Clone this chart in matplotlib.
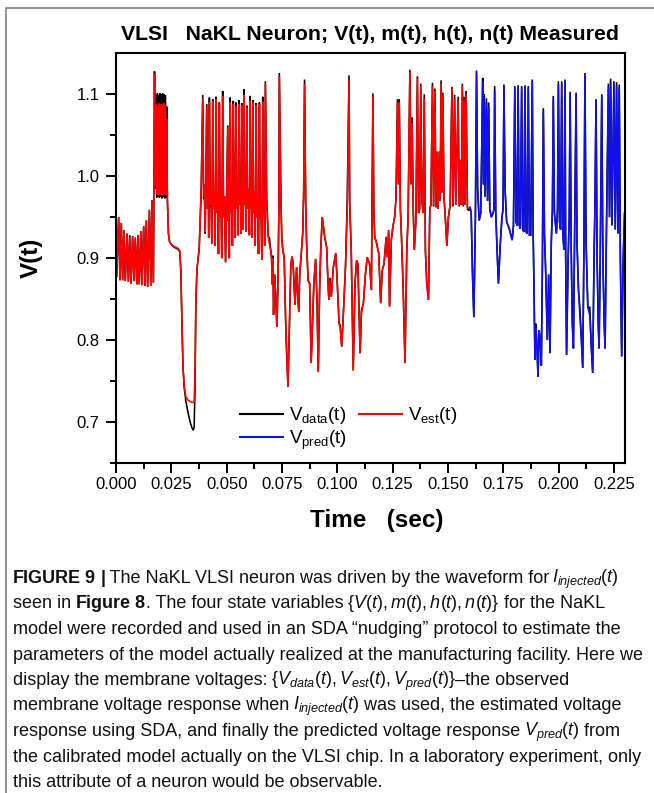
import numpy as np
import matplotlib
import matplotlib.pyplot as plt
from matplotlib.lines import Line2D
from matplotlib.patches import Rectangle

plt.rcParams['font.family'] = ['Liberation Sans', 'DejaVu Sans']
plt.rcParams['mathtext.fontset'] = 'custom'
plt.rcParams['mathtext.rm'] = 'Liberation Sans'
plt.rcParams['mathtext.it'] = 'Liberation Sans:italic'
plt.rcParams['mathtext.bf'] = 'Liberation Sans:bold'

# Membrane voltage vertices: (time [s], model voltage, measured voltage)
# model voltage = V_est up to 0.160 s, V_pred afterwards
rest_osc = [
    (0.0000, 0.967, 0.967), (0.0003, 0.877, 0.877), (0.0012, 0.950, 0.950),
    (0.0018, 0.873, 0.873), (0.0024, 0.943, 0.943), (0.0030, 0.873, 0.873),
    (0.0036, 0.934, 0.934), (0.0042, 0.872, 0.872), (0.0050, 0.930, 0.930),
    (0.0056, 0.871, 0.871), (0.0062, 0.926, 0.928), (0.0068, 0.869, 0.869),
    (0.0075, 0.926, 0.927), (0.0081, 0.872, 0.872), (0.0087, 0.925, 0.925),
    (0.0094, 0.868, 0.868), (0.0099, 0.928, 0.928), (0.0105, 0.868, 0.868),
    (0.0112, 0.933, 0.933), (0.0117, 0.867, 0.867), (0.0125, 0.939, 0.939),
    (0.0131, 0.866, 0.866), (0.0137, 0.946, 0.946), (0.0143, 0.865, 0.865),
    (0.0151, 0.959, 0.959), (0.0157, 0.866, 0.866), (0.0163, 0.971, 0.971),
    (0.0169, 0.870, 0.870),
]

burst = [
    (0.0174, 1.125, 1.128), (0.0178, 0.990, 0.985), (0.0181, 1.088, 1.100),
    (0.0184, 0.978, 0.974), (0.0187, 1.086, 1.101), (0.0190, 0.977, 0.975),
    (0.0193, 1.089, 1.099), (0.0196, 0.977, 0.974), (0.0199, 1.087, 1.101),
    (0.0202, 0.978, 0.975), (0.0205, 1.088, 1.100), (0.0208, 0.977, 0.973),
    (0.0211, 1.086, 1.101), (0.0214, 0.977, 0.975), (0.0217, 1.089, 1.100),
    (0.0220, 0.978, 0.973), (0.0223, 1.087, 1.099), (0.0226, 0.977, 0.974),
    (0.0229, 1.070, 1.085), (0.0232, 0.975, 0.972),
]

hyperpol = [
    (0.0237, 0.930, 0.930), (0.0242, 0.920, 0.920), (0.0252, 0.916, 0.916),
    (0.0265, 0.914, 0.913), (0.0280, 0.912, 0.911), (0.0288, 0.909, 0.908),
    (0.0293, 0.885, 0.885), (0.0298, 0.820, 0.820), (0.0303, 0.765, 0.765),
    (0.0309, 0.742, 0.740), (0.0316, 0.731, 0.725), (0.0325, 0.727, 0.712),
    (0.0335, 0.725, 0.700), (0.0343, 0.724, 0.693), (0.0349, 0.724, 0.690),
    (0.0353, 0.725, 0.693), (0.0357, 0.760, 0.740), (0.0361, 0.850, 0.845),
    (0.0366, 0.887, 0.887), (0.0371, 0.900, 0.900), (0.0376, 0.912, 0.912),
    (0.0381, 0.950, 0.950), (0.0385, 0.983, 0.983),
]

spike_train = [
    (0.0392, 1.095, 1.099), (0.0396, 0.975, 0.972), (0.0399, 0.990, 0.990), (0.0403, 0.932, 0.930),
    (0.0410, 1.085, 1.088), (0.0414, 0.960, 0.960), (0.0417, 0.985, 0.985), (0.0419, 0.925, 0.925),
    (0.0422, 1.090, 1.096), (0.0426, 0.965, 0.963), (0.0429, 0.980, 0.980), (0.0433, 0.918, 0.918),
    (0.0437, 1.092, 1.094), (0.0441, 0.960, 0.960), (0.0444, 0.985, 0.985), (0.0448, 0.915, 0.915),
    (0.0452, 1.094, 1.097), (0.0456, 0.955, 0.955), (0.0459, 0.980, 0.980), (0.0463, 0.905, 0.905),
    (0.0467, 1.088, 1.090), (0.0471, 0.950, 0.950), (0.0474, 0.975, 0.975), (0.0478, 0.900, 0.900),
    (0.0482, 1.098, 1.104), (0.0486, 0.950, 0.950), (0.0490, 0.975, 0.975), (0.0495, 0.895, 0.895),
    (0.0505, 1.060, 1.062), (0.0508, 0.945, 0.945), (0.0510, 0.965, 0.965), (0.0512, 0.900, 0.900),
    (0.0516, 1.090, 1.096), (0.0520, 0.955, 0.955), (0.0523, 0.980, 0.980), (0.0526, 0.915, 0.915),
    (0.0530, 1.088, 1.092), (0.0534, 0.960, 0.960), (0.0536, 0.985, 0.985), (0.0539, 0.925, 0.925),
    (0.0542, 1.086, 1.090), (0.0546, 0.960, 0.960), (0.0549, 0.985, 0.985), (0.0552, 0.928, 0.928),
    (0.0556, 1.088, 1.093), (0.0559, 0.965, 0.965), (0.0562, 0.990, 0.990), (0.0565, 0.930, 0.930),
    (0.0568, 1.087, 1.089), (0.0571, 0.970, 0.970), (0.0573, 0.985, 0.985), (0.0575, 0.935, 0.935),
    (0.0578, 1.099, 1.106), (0.0582, 0.965, 0.965), (0.0585, 0.985, 0.985), (0.0588, 0.932, 0.932),
    (0.0591, 1.084, 1.086), (0.0595, 0.960, 0.960), (0.0599, 0.985, 0.985), (0.0603, 0.928, 0.928),
    (0.0606, 1.092, 1.098), (0.0609, 0.960, 0.960), (0.0612, 0.980, 0.980), (0.0615, 0.925, 0.925),
    (0.0618, 1.090, 1.093), (0.0622, 0.955, 0.955), (0.0625, 0.980, 0.980), (0.0629, 0.915, 0.915),
    (0.0633, 1.087, 1.089), (0.0637, 0.950, 0.950), (0.0640, 0.975, 0.975), (0.0644, 0.905, 0.905),
    (0.0648, 1.088, 1.090), (0.0652, 0.950, 0.950), (0.0655, 0.970, 0.970), (0.0659, 0.898, 0.898),
    (0.0663, 1.091, 1.097), (0.0666, 0.955, 0.955), (0.0669, 0.970, 0.970), (0.0672, 0.915, 0.915),
    (0.0675, 1.113, 1.116),
]

irregular_a = [
    (0.0681, 0.971, 0.971), (0.0688, 0.926, 0.926), (0.0693, 0.917, 0.925),
    (0.0699, 0.910, 0.910), (0.0703, 0.900, 0.900), (0.0706, 0.868, 0.868),
    (0.0709, 0.900, 0.903), (0.0712, 0.831, 0.831), (0.0716, 0.880, 0.880),
    (0.0721, 0.860, 0.860), (0.0727, 0.816, 0.816), (0.0732, 0.870, 0.870),
    (0.0736, 0.960, 0.960), (0.0738, 1.122, 1.126), (0.0745, 0.975, 0.975),
    (0.0749, 0.926, 0.926), (0.0753, 0.912, 0.912), (0.0760, 0.900, 0.900),
    (0.0768, 0.808, 0.808), (0.0777, 0.743, 0.743), (0.0784, 0.820, 0.820),
    (0.0790, 0.890, 0.890), (0.0795, 0.902, 0.902), (0.0800, 0.895, 0.895),
    (0.0809, 0.843, 0.843), (0.0816, 0.889, 0.889), (0.0822, 0.849, 0.849),
    (0.0826, 0.835, 0.835), (0.0830, 0.880, 0.880), (0.0835, 0.897, 0.897),
    (0.0840, 0.916, 0.916), (0.0844, 0.930, 0.932), (0.0848, 0.980, 0.980),
    (0.0852, 1.113, 1.118),
]

irregular_b = [
    (0.0857, 0.971, 0.971), (0.0861, 0.920, 0.920), (0.0868, 0.873, 0.873),
    (0.0875, 0.869, 0.869), (0.0882, 0.772, 0.772), (0.0894, 0.869, 0.869),
    (0.0902, 0.899, 0.899), (0.0908, 0.850, 0.850), (0.0914, 0.761, 0.761),
    (0.0920, 0.860, 0.860), (0.0925, 0.909, 0.909), (0.0932, 0.950, 0.950),
    (0.0943, 0.926, 0.926), (0.0952, 0.913, 0.913), (0.0958, 0.869, 0.869),
    (0.0962, 0.849, 0.849), (0.0967, 0.873, 0.876), (0.0973, 0.853, 0.853),
    (0.0982, 0.889, 0.889), (0.0993, 0.906, 0.906), (0.1000, 0.869, 0.869),
    (0.1008, 0.820, 0.820), (0.1013, 0.815, 0.818), (0.1020, 0.792, 0.792),
    (0.1027, 0.830, 0.830), (0.1037, 0.889, 0.889), (0.1045, 0.960, 0.971),
    (0.1053, 1.118, 1.123), (0.1056, 0.967, 0.967), (0.1063, 0.910, 0.910),
    (0.1068, 0.830, 0.830), (0.1072, 0.763, 0.763), (0.1080, 0.870, 0.870),
    (0.1087, 0.897, 0.897), (0.1093, 0.893, 0.893), (0.1098, 0.840, 0.840),
    (0.1103, 0.784, 0.784), (0.1109, 0.833, 0.836), (0.1118, 0.845, 0.845),
    (0.1127, 0.880, 0.880), (0.1135, 0.901, 0.901), (0.1146, 0.893, 0.893),
    (0.1154, 0.861, 0.861), (0.1161, 1.097, 1.101),
]

irregular_c = [
    (0.1165, 0.960, 0.960), (0.1169, 0.926, 0.926), (0.1176, 0.920, 0.920),
    (0.1187, 0.906, 0.906), (0.1196, 0.845, 0.845), (0.1203, 0.885, 0.885),
    (0.1211, 0.893, 0.893), (0.1221, 0.926, 0.926), (0.1226, 0.901, 0.901),
    (0.1232, 0.934, 0.934), (0.1236, 0.841, 0.841), (0.1244, 0.922, 0.922),
    (0.1251, 0.938, 0.938), (0.1259, 0.950, 0.950), (0.1265, 0.971, 0.971),
    (0.1272, 1.090, 1.094), (0.1276, 0.990, 0.990), (0.1280, 1.090, 1.094),
    (0.1285, 0.960, 0.960), (0.1290, 0.926, 0.926), (0.1297, 0.869, 0.869),
    (0.1306, 0.772, 0.772), (0.1314, 0.910, 0.910), (0.1320, 0.950, 0.950),
    (0.1328, 1.127, 1.130), (0.1333, 0.990, 0.990), (0.1338, 1.065, 1.072),
    (0.1343, 0.960, 0.960), (0.1348, 0.910, 0.910), (0.1355, 0.945, 0.945),
    (0.1362, 1.120, 1.122), (0.1367, 0.955, 0.955), (0.1372, 0.960, 0.960),
    (0.1377, 1.110, 1.113), (0.1382, 0.970, 0.970), (0.1388, 0.955, 0.955),
    (0.1393, 1.095, 1.100), (0.1398, 0.910, 0.910), (0.1404, 0.870, 0.870),
    (0.1412, 0.849, 0.849), (0.1418, 0.960, 0.960), (0.1423, 0.965, 0.965),
]

late_train = [
    (0.1430, 1.110, 1.114), (0.1435, 0.965, 0.963), (0.1441, 1.104, 1.107),
    (0.1446, 0.962, 0.962), (0.1451, 1.030, 1.030), (0.1455, 0.960, 0.960),
    (0.1461, 1.030, 1.030), (0.1465, 0.970, 0.970), (0.1469, 1.113, 1.117),
    (0.1474, 0.980, 0.980), (0.1477, 1.100, 1.102), (0.1482, 0.975, 0.975),
    (0.1488, 0.950, 0.950), (0.1495, 0.915, 0.915), (0.1502, 0.950, 0.950),
    (0.1510, 0.965, 0.965), (0.1518, 1.107, 1.109), (0.1523, 0.965, 0.963),
    (0.1530, 1.095, 1.099), (0.1535, 0.965, 0.965), (0.1541, 1.030, 1.030),
    (0.1546, 1.093, 1.097), (0.1551, 0.965, 0.963), (0.1557, 1.020, 1.020),
    (0.1561, 0.965, 0.965), (0.1565, 1.110, 1.113), (0.1569, 0.965, 0.963),
    (0.1573, 1.093, 1.097), (0.1577, 0.965, 0.965), (0.1582, 1.100, 1.104),
    (0.1588, 0.962, 0.960), (0.1595, 0.960, 0.958), (0.1600, 0.962, 0.962),
]

prediction = [
    (0.1600, 0.962, 0.962), (0.1605, 0.955, 0.955), (0.1611, 0.880, 0.880),
    (0.1617, 0.828, 0.828), (0.1624, 0.950, 0.950), (0.1629, 1.126, 1.129),
    (0.1634, 0.985, 0.985), (0.1641, 0.946, 0.946), (0.1648, 0.955, 0.955),
    (0.1653, 1.040, 1.040), (0.1657, 1.116, 1.120), (0.1661, 0.990, 0.990),
    (0.1664, 1.096, 1.100), (0.1668, 0.975, 0.975), (0.1674, 1.090, 1.095),
    (0.1679, 0.970, 0.970), (0.1684, 1.085, 1.090), (0.1689, 0.960, 0.960),
    (0.1696, 0.950, 0.950), (0.1704, 0.955, 0.955), (0.1708, 0.960, 0.960),
    (0.1711, 1.105, 1.110), (0.1716, 0.955, 0.955), (0.1722, 0.910, 0.910),
    (0.1728, 0.869, 0.869), (0.1736, 0.915, 0.915), (0.1744, 0.950, 0.950),
    (0.1749, 0.960, 0.960), (0.1753, 1.109, 1.112), (0.1758, 0.985, 0.985),
    (0.1765, 0.945, 0.945), (0.1778, 0.935, 0.935), (0.1790, 0.922, 0.922),
    (0.1796, 0.940, 0.940), (0.1802, 1.108, 1.110), (0.1807, 0.945, 0.945),
    (0.1812, 0.940, 0.940), (0.1817, 1.108, 1.111), (0.1822, 0.940, 0.940),
    (0.1827, 0.936, 0.936), (0.1833, 1.108, 1.110), (0.1838, 0.935, 0.935),
    (0.1843, 0.932, 0.932), (0.1848, 1.108, 1.111), (0.1853, 0.932, 0.932),
    (0.1858, 0.930, 0.930), (0.1863, 1.108, 1.110), (0.1868, 0.928, 0.928),
    (0.1874, 0.928, 0.928), (0.1881, 1.116, 1.118), (0.1885, 0.930, 0.930),
    (0.1889, 0.860, 0.860), (0.1893, 0.776, 0.776), (0.1897, 0.815, 0.820),
    (0.1901, 0.800, 0.800), (0.1907, 0.755, 0.755), (0.1912, 0.812, 0.812),
    (0.1917, 0.800, 0.800), (0.1922, 0.769, 0.769), (0.1927, 0.900, 0.900),
    (0.1931, 1.080, 1.083), (0.1936, 0.930, 0.930), (0.1942, 0.880, 0.880),
    (0.1949, 0.800, 0.800), (0.1955, 0.880, 0.880), (0.1961, 0.784, 0.784),
    (0.1967, 0.920, 0.920), (0.1972, 0.960, 0.960), (0.1976, 1.095, 1.098),
    (0.1981, 0.955, 0.955), (0.1990, 0.930, 0.930), (0.1995, 0.960, 0.960),
    (0.1999, 1.112, 1.116), (0.2004, 0.945, 0.945), (0.2009, 0.935, 0.935),
    (0.2014, 1.113, 1.116), (0.2019, 0.930, 0.930), (0.2024, 0.910, 0.910),
    (0.2029, 1.115, 1.118), (0.2032, 0.900, 0.900), (0.2036, 0.782, 0.782),
    (0.2043, 0.900, 0.900), (0.2048, 0.950, 0.950), (0.2052, 1.100, 1.103),
    (0.2057, 0.910, 0.910), (0.2062, 0.820, 0.820), (0.2067, 0.790, 0.790),
    (0.2072, 0.920, 0.920), (0.2079, 1.100, 1.102), (0.2083, 0.920, 0.920),
    (0.2090, 0.860, 0.860), (0.2096, 0.830, 0.840), (0.2103, 0.800, 0.800),
    (0.2109, 0.766, 0.766), (0.2114, 0.900, 0.900), (0.2119, 1.124, 1.126),
    (0.2124, 0.920, 0.920), (0.2132, 0.840, 0.840), (0.2141, 0.830, 0.840),
    (0.2148, 0.790, 0.790), (0.2154, 0.760, 0.760), (0.2160, 0.900, 0.900),
    (0.2164, 0.960, 0.960), (0.2169, 1.092, 1.094), (0.2174, 0.900, 0.900),
    (0.2179, 0.820, 0.820), (0.2183, 0.790, 0.790), (0.2188, 0.900, 0.900),
    (0.2195, 1.098, 1.100), (0.2200, 0.900, 0.900), (0.2206, 0.820, 0.820),
    (0.2210, 0.790, 0.790), (0.2216, 0.930, 0.930), (0.2225, 1.109, 1.113),
    (0.2230, 0.950, 0.950), (0.2235, 1.115, 1.119), (0.2241, 0.940, 0.940),
    (0.2250, 1.112, 1.116), (0.2256, 0.935, 0.935), (0.2262, 1.111, 1.115),
    (0.2268, 0.930, 0.930), (0.2274, 1.109, 1.112), (0.2279, 0.900, 0.900),
    (0.2285, 0.780, 0.780), (0.2292, 0.900, 0.900), (0.2298, 0.955, 0.955),
]

x_ticks = [0.000, 0.025, 0.050, 0.075, 0.100, 0.125, 0.150, 0.175, 0.200, 0.225]
y_ticks = [0.7, 0.8, 0.9, 1.0, 1.1]

title = "VLSI   NaKL Neuron; V(t), m(t), h(t), n(t) Measured"
legend_labels = [r"V$_{\mathrm{data}}$(t)", r"V$_{\mathrm{pred}}$(t)", r"V$_{\mathrm{est}}$(t)"]
caption_lines = [
    r"$\mathbf{FIGURE\ 9\ |}$ The NaKL VLSI neuron was driven by the waveform for $I_{injected}(t)$",
    r"seen in $\mathbf{Figure\ 8}$. The four state variables $\{V(t), m(t), h(t), n(t)\}$ for the NaKL",
    "model were recorded and used in an SDA \u201cnudging\u201d protocol to estimate the",
    "parameters of the model actually realized at the manufacturing facility. Here we",
    r"display the membrane voltages: $\{V_{data}(t), V_{est}(t), V_{pred}(t)\}$" + "\u2013the observed",
    r"membrane voltage response when $I_{injected}(t)$ was used, the estimated voltage",
    r"response using SDA, and finally the predicted voltage response $V_{pred}(t)$ from",
    "the calibrated model actually on the VLSI chip. In a laboratory experiment, only",
    "this attribute of a neuron would be observable.",
]

est_vertices = rest_osc + burst + hyperpol + spike_train + irregular_a + irregular_b + irregular_c + late_train
est = np.array(est_vertices)
pred = np.array(prediction)
measured = np.vstack([est, pred[1:]])

W, H = 654, 793
fig = plt.figure(figsize=(W / 100, H / 100), dpi=100)
renderer = fig.canvas.get_renderer()

# panel border
fig.add_artist(Rectangle((6 / W, -0.02), 1.0, 1.02 - 8 / H, transform=fig.transFigure,
                         fill=False, edgecolor='#8a8a8a', linewidth=1.3))

ax = fig.add_axes([116 / W, 1 - 463 / H, 509 / W, 409.7 / H])

lw = 1.15
ax.plot(measured[:, 0], measured[:, 2], color='black', lw=lw, solid_joinstyle='miter')
ax.plot(est[:, 0], est[:, 1], color='#ff0000', lw=lw, solid_joinstyle='miter')
ax.plot(pred[:, 0], pred[:, 1], color='#1010e8', lw=lw, solid_joinstyle='miter')

ax.set_xlim(0.0, 0.230)
ax.set_ylim(0.651, 1.150)
ax.set_xticks(x_ticks)
ax.set_xticklabels([f"{v:.3f}" for v in x_ticks])
ax.set_xticks(np.arange(0.0125, 0.230, 0.025), minor=True)
ax.set_yticks(y_ticks)
ax.set_yticklabels([f"{v:.1f}" for v in y_ticks])
ax.set_yticks([0.65, 0.75, 0.85, 0.95, 1.05], minor=True)
ax.tick_params(which='major', direction='out', length=7, width=1.4, labelsize=12, pad=3)
ax.tick_params(which='minor', direction='out', length=4, width=1.4)
ax.tick_params(axis='y', which='major', pad=5)
for s in ax.spines.values():
    s.set_linewidth(1.5)

handles = [Line2D([], [], color='black', lw=1.5),
           Line2D([], [], color='#1010e8', lw=1.5),
           Line2D([], [], color='#ff0000', lw=1.5)]
ax.legend(handles, legend_labels, ncol=2, frameon=False, loc='lower left',
          bbox_to_anchor=(0.243, 0.028), fontsize=13.5, handlelength=2.3,
          handletextpad=0.35, columnspacing=0.6, labelspacing=0.1,
          borderpad=0, borderaxespad=0)

fig.text(370 / W, 1 - 34 / H, title, ha='center', va='center', fontsize=15.3, fontweight='bold')
fig.text(31 / W, 1 - 258 / H, "V(t)", rotation=90, ha='center', va='center', fontsize=17.5, fontweight='bold')
fig.text(377 / W, 1 - 521 / H, "Time   (sec)", ha='center', va='center', fontsize=17.5, fontweight='bold')


def text_advance(s, size):
    """Horizontal advance of a caption piece in pixels (trailing spaces included)."""
    probe = fig.text(0, 0, s + "|", fontsize=size)
    bar = fig.text(0, 0, "|", fontsize=size)
    w = probe.get_window_extent(renderer).width - bar.get_window_extent(renderer).width
    probe.remove()
    bar.remove()
    return w


def draw_caption_line(x_px, y_px, line, size):
    # plain runs keep normal kerning; $...$ runs go through mathtext
    x = x_px
    for k, part in enumerate(line.split("$")):
        if not part:
            continue
        if k % 2:
            t = fig.text((x - 1.5) / W, 1 - y_px / H, "$" + part + "$", ha='left',
                         va='baseline', fontsize=size, color='#111111')
            x += t.get_window_extent(renderer).width - 2.0
        else:
            fig.text(x / W, 1 - y_px / H, part, ha='left', va='baseline',
                     fontsize=size, color='#111111')
            x += text_advance(part, size)


for i, line in enumerate(caption_lines):
    draw_caption_line(13, 583 + 25.5 * i, line, 13.0)

fig.savefig("out.png", dpi=100)
